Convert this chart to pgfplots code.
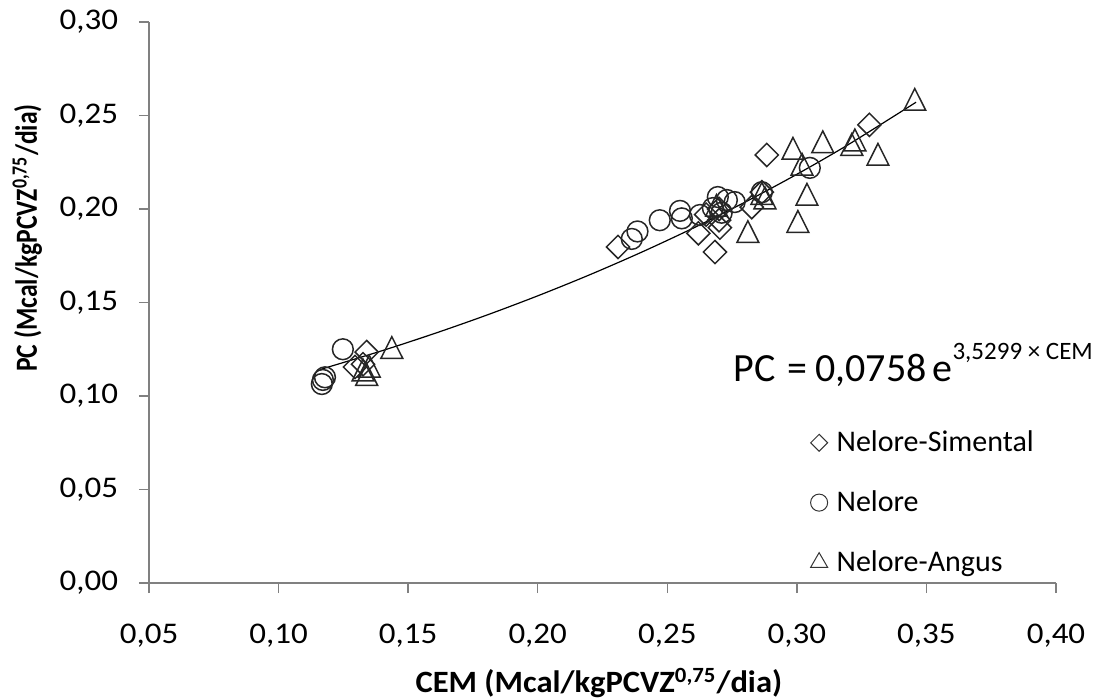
\documentclass[border=0pt]{standalone}
\usepackage{fontspec}
\setmainfont{Carlito}
\usepackage{pgfplots}
\pgfplotsset{compat=1.18}

\pgfplotstableread{
x y
0.1295 0.1155
0.1326 0.1170
0.1340 0.1235
0.2310 0.1797
0.2620 0.1870
0.2684 0.1770
0.2703 0.1900
0.2650 0.1970
0.2700 0.2000
0.2700 0.1940
0.2826 0.2010
0.2865 0.2090
0.2884 0.2289
0.3280 0.2450
}\simental

\pgfplotstableread{
x y
0.1167 0.1064
0.1171 0.1086
0.1179 0.1100
0.1248 0.1250
0.2363 0.1840
0.2385 0.1880
0.2471 0.1940
0.2549 0.1990
0.2556 0.1950
0.2626 0.1968
0.2676 0.2005
0.2695 0.2064
0.2710 0.1980
0.2730 0.2048
0.2760 0.2037
0.2865 0.2090
0.3050 0.2220
}\nelore

\pgfplotstableread{
x y
0.1326 0.1120
0.1340 0.1096
0.1350 0.1140
0.1437 0.1240
0.2690 0.2000
0.2811 0.1860
0.2865 0.2064
0.2877 0.2040
0.2985 0.2305
0.3020 0.2220
0.3004 0.1914
0.3039 0.2059
0.3100 0.2340
0.3212 0.2326
0.3224 0.2350
0.3313 0.2273
0.3455 0.2567
}\angus

\pgfplotstableread{
x y
0.116 0.11415
0.14 0.12425
0.16 0.13334
0.18 0.14309
0.20 0.15356
0.22 0.16479
0.24 0.17685
0.26 0.18978
0.28 0.20366
0.30 0.21856
0.32 0.23455
0.346 0.25710
}\trend

\begin{document}
\begin{tikzpicture}
\begin{axis}[
  scale only axis,
  width=453.5pt, height=280.5pt,
  at={(74.5pt,57.5pt)}, anchor=south west,
  xmin=0.05, xmax=0.40, ymin=0, ymax=0.30,
  xtick={0.05,0.10,0.15,0.20,0.25,0.30,0.35,0.40},
  ytick={0,0.05,0.10,0.15,0.20,0.25,0.30},
  axis x line*=bottom, axis y line*=left,
  axis line style={draw=black!50, line width=0.7pt, -},
  tick style={draw=black!50, line width=0.7pt},
  tick align=outside,
  major tick length=5pt,
  ticklabel style={font=\fontsize{15}{18}\selectfont, xscale=1.1},
  xticklabel style={yshift=-12pt},
  yticklabel style={xshift=-6pt},
  /pgf/number format/.cd, fixed, fixed zerofill, precision=2, use comma, assume math mode=true,
  /pgfplots/.cd,
  xlabel={CEM (Mcal/kgPCVZ\textsuperscript{0,75}/dia)},
  ylabel={PC (Mcal/kgPCVZ\textsuperscript{0,75}/dia)},
  xlabel style={font=\bfseries\fontsize{15.5}{18}\selectfont, at={(rel axis cs:0.496,-0.196)}, anchor=base, xscale=1.05},
  ylabel style={font=\bfseries\fontsize{12.8}{15}\selectfont, at={(rel axis cs:-0.1235,0.615)}, anchor=base, yscale=1.2},
  legend image code/.code={\draw[#1] plot coordinates {(0.15cm,0cm)};},
  legend style={draw=none, fill=none, at={(rel axis cs:0.729,0.279)}, anchor=north west,
    font=\fontsize{15}{18}\selectfont, row sep=14pt, column sep=2.5pt, inner sep=0pt},
  legend cell align=left,
]
\addplot[only marks, mark=square, mark size=4.1pt,
  mark options={rotate=45, draw=black!85, line width=0.75pt, fill=none},
  legend image post style={mark options={rotate=45, scale=0.73, draw=black!80, line width=0.5pt}}]
  table {\simental};
\addlegendentry{Nelore-Simental}
\addplot[only marks, mark=o, mark size=5.2pt,
  mark options={draw=black!85, line width=0.75pt},
  legend image post style={mark options={scale=0.82, draw=black!80, line width=0.5pt}}]
  table {\nelore};
\addlegendentry{Nelore}
\addplot[only marks, mark=triangle, mark size=6.3pt,
  mark options={yscale=1.15, draw=black!85, line width=0.75pt},
  legend image post style={mark options={scale=0.78, draw=black!80, line width=0.5pt}}]
  table {\angus};
\addlegendentry{Nelore-Angus}
\addplot[forget plot, black, line width=0.6pt, smooth, no marks] table {\trend};
\end{axis}
\node[anchor=base west, inner sep=0pt, font=\fontsize{20}{24}\selectfont] at (366.5pt,158pt)
  {PC\hspace{6pt}=\hspace{4pt}0,0758\hspace{3pt}e\raisebox{11.5pt}{\fontsize{12.5}{15}\selectfont 3,5299 × CEM}};
\pgfresetboundingbox
\useasboundingbox (0,0) rectangle (550pt,349pt);
\end{tikzpicture}
\end{document}
